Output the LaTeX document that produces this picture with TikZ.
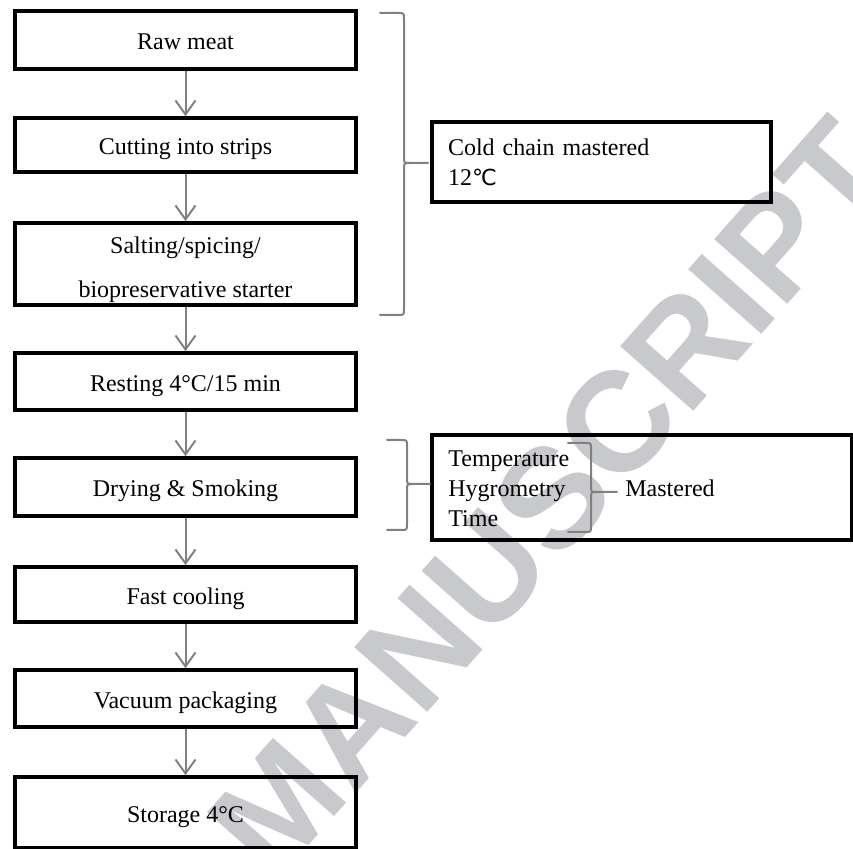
\documentclass[tikz,border=0pt]{standalone}
\usepackage{fontspec}
\setmainfont{Liberation Serif}
\newfontfamily\wmfont{Liberation Sans}
\newfontfamily\degcfont[Scale=0.92]{DejaVu Sans}
\usetikzlibrary{arrows.meta}
\definecolor{wmgray}{RGB}{200,201,204}
% side brace: end x, spine x, top y, bottom y, middle y, tip x
\newcommand{\gbrace}[6]{%
  \draw[brace] (#1,#3) -- (#2-6,#3) .. controls (#2,#3) .. (#2,#3+6) -- (#2,#5-6) .. controls (#2,#5) .. (#2+6,#5) -- (#6,#5);
  \draw[brace] (#1,#4) -- (#2-6,#4) .. controls (#2,#4) .. (#2,#4-6) -- (#2,#5+6) .. controls (#2,#5) .. (#2+6,#5);
}
\begin{document}
\begin{tikzpicture}[x=0.5pt,y=-0.5pt,
    every node/.style={font=\fontsize{12}{15}\selectfont},
    box/.style={draw,line width=1.8pt,minimum width=170.5pt,inner sep=0pt,align=center},
    oneline/.style={box,text height=10pt,text depth=0pt},
    flow/.style={draw=gray,line width=1pt,-{Straight Barb[length=7pt,width=10pt,line width=1pt]}},
    brace/.style={draw=gray,line width=1pt,line cap=round},
    wmark/.style={text=wmgray,font=\wmfont\bfseries\fontsize{71}{71}\selectfont,inner sep=0pt}]
    \useasboundingbox (0,0) rectangle (853,849);
    % watermark
    \node[wmark,rotate=48.5] (wm) at (552,498) {MANUSCRIPT};
    % process steps
    \node[oneline,minimum height=29pt] (raw) at (185.5,40) {Raw meat};
    \node[oneline,minimum height=27pt] (cut) at (185.5,145) {Cutting into strips};
    \node[box,minimum height=41pt] (salt) at (185.5,264) {\rule{0pt}{14pt}Salting/spicing/\\[7pt]biopreservative starter};
    \node[oneline,minimum height=28.5pt] (rest) at (185.5,381.5) {Resting 4°C/15 min};
    \node[oneline,minimum height=29pt] (dry) at (185.5,487) {Drying \& Smoking};
    \node[oneline,minimum height=27.5pt] (cool) at (185.5,594.5) {Fast cooling};
    \node[oneline,minimum height=28.5pt] (pack) at (185.5,698.5) {Vacuum packaging};
    \node[oneline,minimum height=35.5pt] (store) at (185.5,812.5) {Storage 4°C};
    \draw[flow] (raw) -- (cut);
    \draw[flow] (cut) -- (salt);
    \draw[flow] (salt) -- (rest);
    \draw[flow] (rest) -- (dry);
    \draw[flow] (dry) -- (cool);
    \draw[flow] (cool) -- (pack);
    \draw[flow] (pack) -- (store);
    % conditions
    \node[box,minimum width=169.5pt,minimum height=40pt,align=left,text width=153.5pt] (cold) at (601.5,162) {Cold chain mastered\\12{\degcfont ℃}};
    \node[box,minimum width=210pt,minimum height=52.5pt] (ctrl) at (642,487.5) {};
    \node[anchor=west,align=left,inner sep=0pt] (params) at (448,489) {Temperature\\Hygrometry\\Time};
    \node[anchor=base west,inner sep=0pt] (mastered) at (625,497) {Mastered};
    \gbrace{380}{404}{13}{315}{163}{428}
    \gbrace{387}{407}{440}{530}{484}{430}
    \gbrace{568}{591}{443}{532}{492}{617}
\end{tikzpicture}
\end{document}
